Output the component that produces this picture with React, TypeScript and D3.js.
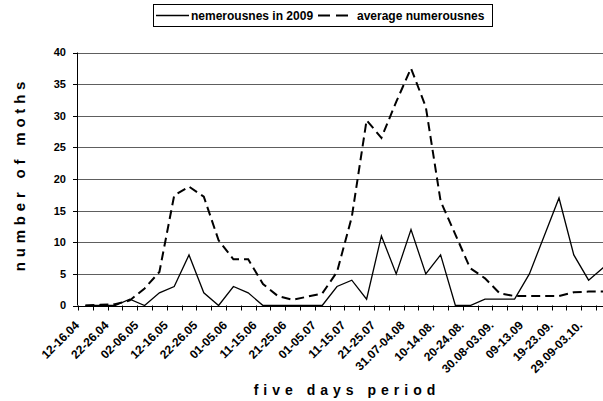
import React from "react";
import * as d3 from "d3";

const categories = [
  "12-16.04", "17-21.04", "22-26.04", "27.04-01.05", "02-06.05", "07-11.05",
  "12-16.05", "17-21.05", "22-26.05", "27-31.05", "01-05.06", "06-10.06",
  "11-15.06", "16-20.06", "21-25.06", "26-30.06", "01-05.07", "06-10.07",
  "11-15.07", "16-20.07", "21-25.07", "26-30.07", "31.07-04.08", "05-09.08.",
  "10-14.08.", "15-19.08.", "20-24.08.", "25-29.08.", "30.08-03.09.", "04-08.09.",
  "09-13.09", "14-18.09.", "19-23.09.", "24-28.09.", "29.09-03.10.", "04-08.10.",
];

const numerousness2009 = [
  0, 0, 0, 1, 0, 2, 3, 8, 2, 0, 3, 2, 0, 0, 0, 0, 0, 3,
  4, 1, 11, 5, 12, 5, 8, 0, 0, 1, 1, 1, 5, 11, 17, 8, 4, 6,
];

const averageNumerousness = [
  0, 0.1, 0.2, 0.8, 2.7, 5.3, 17.4, 18.8, 17.2, 10.3, 7.3, 7.3, 3.4, 1.5, 0.9, 1.4, 1.9, 5.3,
  14, 29.3, 26.5, 32.2, 37.5, 31.4, 16.5, 11.2, 5.9, 4.3, 1.9, 1.5, 1.5, 1.5, 1.5, 2.1, 2.2, 2.2,
];

const yTicks = [0, 5, 10, 15, 20, 25, 30, 35, 40];
const seriesNames = ["nemerousnes in 2009", "average numerousnes"];
const labelEvery = 2;

const FONT = "Arial, 'Liberation Sans', sans-serif";

export default function App() {
  const left = 78;
  const band = 14.8;
  const right = left + band * categories.length;
  const x = d3.scaleBand<string>().domain(categories).range([left, right]).paddingInner(0).paddingOuter(0);
  const y = d3.scaleLinear().domain([0, 40]).range([305.5, 52.5]);
  const cx = (c: string) => (x(c) as number) + x.bandwidth() / 2;

  const line = d3
    .line<number>()
    .x((_, i) => cx(categories[i]))
    .y((d) => y(d));

  const boundaries = d3.range(categories.length + 1).map((i) => left + i * x.step());

  return (
    <svg
      width={603}
      height={401}
      style={{ position: "absolute", left: 0, top: 0, background: "#fff" }}
      fontFamily={FONT}
    >
      <rect x={0} y={0} width={603} height={401} fill="#fff" />
      {/* gridlines */}
      {yTicks.filter((t) => t > 0).map((t) => (
        <line key={t} x1={left} x2={right} y1={Math.round(y(t)) + 0.5} y2={Math.round(y(t)) + 0.5} stroke="#5e5e5e" strokeWidth={1} />
      ))}
      {/* y axis */}
      <line x1={left - 0.5} x2={left - 0.5} y1={y(40)} y2={y(0)} stroke="#000" strokeWidth={1} />
      {yTicks.map((t) => (
        <g key={t}>
          <line x1={left - 5} x2={left} y1={Math.round(y(t)) + 0.5} y2={Math.round(y(t)) + 0.5} stroke="#000" />
          <text x={66} y={y(t)} dy="0.36em" textAnchor="end" fontSize={11} fontWeight="bold">
            {t}
          </text>
        </g>
      ))}
      {/* x axis */}
      <line x1={left} x2={right} y1={Math.round(y(0)) + 0.5} y2={Math.round(y(0)) + 0.5} stroke="#000" />
      {boundaries.map((b, i) => (
        <line key={i} x1={Math.round(b) + 0.5} x2={Math.round(b) + 0.5} y1={y(0)} y2={y(0) + 5} stroke="#000" />
      ))}
      {categories.map((c, i) =>
        i % labelEvery === 0 ? (
          <text
            key={c}
            transform={`translate(${cx(c) - 5.5},${326}) rotate(-45)`}
            textAnchor="end"
            fontSize={12}
            fontWeight="bold"
          >
            {c}
          </text>
        ) : null
      )}
      {/* series */}
      <path d={line(averageNumerousness) || ""} fill="none" stroke="#000" strokeWidth={2} strokeDasharray="9,5" />
      <path d={line(numerousness2009) || ""} fill="none" stroke="#000" strokeWidth={1.3} />
      {/* axis titles */}
      <text
        transform={`translate(25,174) rotate(-90)`}
        textAnchor="middle"
        fontSize={15}
        fontWeight="bold"
        letterSpacing={4.8}
      >
        number of moths
      </text>
      <text x={347} y={395} textAnchor="middle" fontSize={14} fontWeight="bold" letterSpacing={5}>
        five days period
      </text>
      {/* legend */}
      <rect x={153.5} y={4.5} width={339} height={22} fill="#fff" stroke="#000" />
      <line x1={156} x2={189} y1={15.5} y2={15.5} stroke="#000" strokeWidth={1.3} />
      <text x={191} y={20} fontSize={12} fontWeight="bold">{seriesNames[0]}</text>
      <line x1={318} x2={352} y1={15.5} y2={15.5} stroke="#000" strokeWidth={2} strokeDasharray="12,6" />
      <text x={357} y={20} fontSize={12} fontWeight="bold">{seriesNames[1]}</text>
    </svg>
  );
}
